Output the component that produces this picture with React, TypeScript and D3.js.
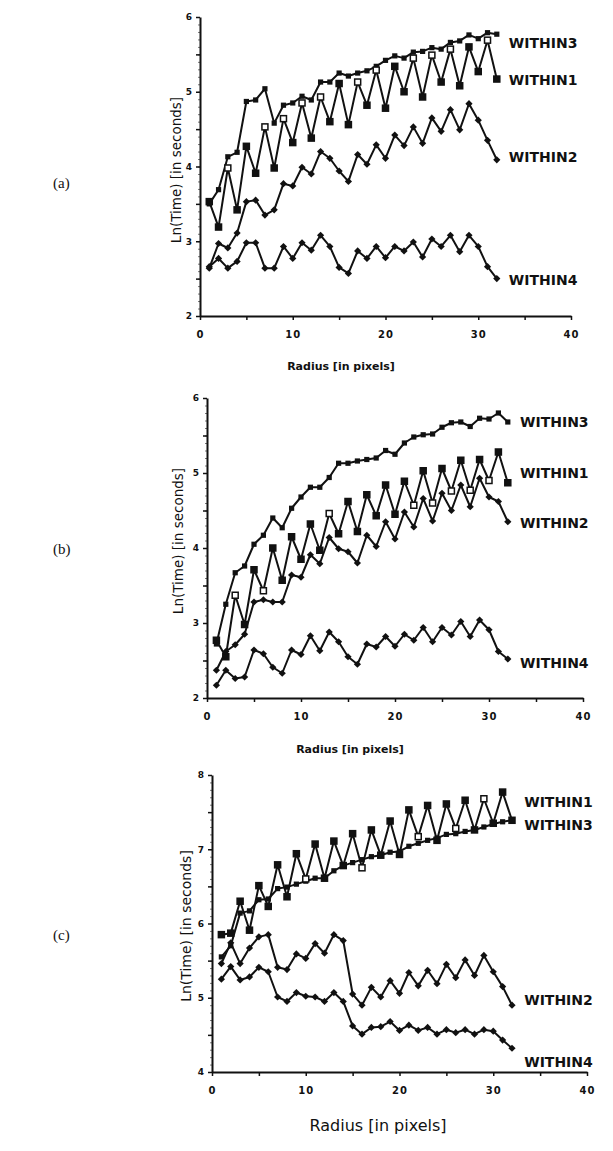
import React, { useEffect, useRef } from 'react';
import * as d3 from 'd3';

const radius = [1, 2, 3, 4, 5, 6, 7, 8, 9, 10, 11, 12, 13, 14, 15, 16, 17, 18, 19, 20, 21, 22, 23, 24, 25, 26, 27, 28, 29, 30, 31, 32];

// panel (a)
const aWithin1 = [3.53, 3.19, 3.98, 3.42, 4.27, 3.91, 4.53, 3.98, 4.64, 4.32, 4.85, 4.38, 4.93, 4.6, 5.11, 4.56, 5.13, 4.82, 5.29, 4.78, 5.34, 5.0, 5.45, 4.93, 5.49, 5.13, 5.57, 5.08, 5.6, 5.27, 5.69, 5.17];
const aWithin2 = [2.64, 2.97, 2.91, 3.11, 3.53, 3.55, 3.35, 3.42, 3.77, 3.74, 3.99, 3.9, 4.2, 4.11, 3.94, 3.8, 4.16, 4.03, 4.29, 4.11, 4.42, 4.28, 4.53, 4.31, 4.65, 4.47, 4.76, 4.49, 4.84, 4.62, 4.35, 4.09];
const aWithin3 = [3.5, 3.69, 4.13, 4.19, 4.87, 4.89, 5.04, 4.58, 4.82, 4.85, 4.94, 4.89, 5.13, 5.13, 5.25, 5.21, 5.25, 5.28, 5.34, 5.42, 5.48, 5.45, 5.53, 5.54, 5.59, 5.57, 5.66, 5.68, 5.76, 5.71, 5.79, 5.77];
const aWithin4 = [2.66, 2.77, 2.64, 2.73, 2.98, 2.98, 2.64, 2.64, 2.93, 2.77, 2.98, 2.88, 3.08, 2.93, 2.65, 2.57, 2.87, 2.77, 2.93, 2.78, 2.93, 2.87, 2.99, 2.79, 3.03, 2.93, 3.08, 2.86, 3.08, 2.93, 2.66, 2.5];

// panel (b)
const bWithin1 = [2.77, 2.55, 3.37, 2.98, 3.71, 3.43, 4.0, 3.57, 4.15, 3.85, 4.32, 3.97, 4.46, 4.19, 4.62, 4.22, 4.71, 4.43, 4.84, 4.45, 4.89, 4.57, 5.03, 4.6, 5.06, 4.76, 5.17, 4.77, 5.18, 4.9, 5.28, 4.87];
const bWithin2 = [2.37, 2.62, 2.71, 2.85, 3.28, 3.31, 3.28, 3.28, 3.64, 3.61, 3.91, 3.79, 4.14, 3.99, 3.95, 3.8, 4.17, 4.02, 4.35, 4.12, 4.48, 4.28, 4.66, 4.36, 4.73, 4.5, 4.84, 4.55, 4.93, 4.68, 4.62, 4.35];
const bWithin3 = [2.72, 3.25, 3.67, 3.76, 4.05, 4.17, 4.4, 4.27, 4.53, 4.68, 4.81, 4.81, 4.94, 5.13, 5.13, 5.16, 5.18, 5.2, 5.3, 5.25, 5.4, 5.48, 5.51, 5.52, 5.61, 5.67, 5.68, 5.62, 5.73, 5.72, 5.8, 5.68];
const bWithin4 = [2.17, 2.37, 2.26, 2.28, 2.64, 2.59, 2.41, 2.33, 2.64, 2.58, 2.83, 2.63, 2.88, 2.75, 2.55, 2.45, 2.72, 2.68, 2.82, 2.69, 2.85, 2.77, 2.94, 2.75, 2.94, 2.84, 3.02, 2.82, 3.04, 2.91, 2.62, 2.52];

// panel (c)
const cWithin1 = [5.85, 5.87, 6.3, 5.91, 6.51, 6.23, 6.79, 6.36, 6.94, 6.6, 7.07, 6.61, 7.11, 6.78, 7.21, 6.75, 7.26, 6.92, 7.38, 6.93, 7.53, 7.17, 7.59, 7.12, 7.61, 7.28, 7.66, 7.26, 7.68, 7.35, 7.77, 7.39];
const cWithin2 = [5.46, 5.74, 5.46, 5.67, 5.82, 5.85, 5.41, 5.38, 5.59, 5.53, 5.73, 5.6, 5.85, 5.77, 5.05, 4.9, 5.14, 5.01, 5.23, 5.06, 5.34, 5.16, 5.37, 5.19, 5.45, 5.27, 5.51, 5.3, 5.57, 5.35, 5.15, 4.9];
const cWithin3 = [5.55, 5.7, 6.14, 6.17, 6.32, 6.33, 6.47, 6.49, 6.53, 6.57, 6.61, 6.61, 6.71, 6.78, 6.82, 6.86, 6.9, 6.92, 6.96, 6.97, 7.04, 7.08, 7.12, 7.15, 7.2, 7.21, 7.24, 7.26, 7.3, 7.34, 7.37, 7.39];
const cWithin4 = [5.25, 5.42, 5.24, 5.28, 5.41, 5.35, 5.01, 4.95, 5.07, 5.02, 5.01, 4.95, 5.07, 4.95, 4.62, 4.51, 4.6, 4.61, 4.68, 4.56, 4.63, 4.56, 4.6, 4.51, 4.57, 4.53, 4.57, 4.51, 4.57, 4.55, 4.43, 4.32];

const seriesNames = ['WITHIN1', 'WITHIN2', 'WITHIN3', 'WITHIN4'];
const xTicks = [0, 10, 20, 30, 40];
const yTicksAB = [2, 3, 4, 5, 6];
const yTicksC = [4, 5, 6, 7, 8];

// where the series names sit (value units), order WITHIN1..4
const aLabelY = [5.16, 4.13, 5.65, 2.48];
const bLabelY = [5.0, 4.33, 5.68, 2.47];
const cLabelY = [7.64, 4.97, 7.33, 4.13];
const labelR = 33.3;

// radii where WITHIN1 prints as an open square
const aOpen = [3, 7, 9, 11, 13, 17, 19, 23, 25, 27, 31];
const bOpen = [3, 6, 13, 22, 24, 26, 28, 30];
const cOpen = [10, 16, 22, 26, 29];

const panels = [
  {
    tag: '(a)', data: [aWithin1, aWithin2, aWithin3, aWithin4], yTicks: yTicksAB, labelY: aLabelY, open: aOpen,
    left: 200, right: 571, top: 17, bottom: 316, tagY: 188,
    yTitleX: 176, yTitleY: 170, yTitleSize: 13.5,
    xTitleX: 341, xTitleY: 370, xTitleSize: 11, xTitleBold: true,
  },
  {
    tag: '(b)', data: [bWithin1, bWithin2, bWithin3, bWithin4], yTicks: yTicksAB, labelY: bLabelY, open: bOpen,
    left: 207, right: 583, top: 398, bottom: 698, tagY: 554,
    yTitleX: 178, yTitleY: 541, yTitleSize: 13.5,
    xTitleX: 350, xTitleY: 753, xTitleSize: 11, xTitleBold: true,
  },
  {
    tag: '(c)', data: [cWithin1, cWithin2, cWithin3, cWithin4], yTicks: yTicksC, labelY: cLabelY, open: cOpen,
    left: 212, right: 587, top: 775, bottom: 1072, tagY: 940,
    yTitleX: 186, yTitleY: 926, yTitleSize: 14,
    xTitleX: 378, xTitleY: 1131, xTitleSize: 16, xTitleBold: false,
  },
];

const ink = '#111';

function App() {
  const ref = useRef(null);

  useEffect(() => {
    d3.select(ref.current).select('svg').remove();
    const svg = d3
      .select(ref.current)
      .append('svg')
      .attr('width', 613)
      .attr('height', 1151)
      .style('position', 'absolute')
      .style('left', '0px')
      .style('top', '0px')
      .style('background', '#fff');

    panels.forEach((p) => {
      const yMin = p.yTicks[0];
      const yMax = p.yTicks[p.yTicks.length - 1];
      const x = d3.scaleLinear().domain([0, 40]).range([p.left, p.right]);
      const y = d3.scaleLinear().domain([yMin, yMax]).range([p.bottom, p.top]);
      const g = svg.append('g');

      // minor ticks on y
      g.append('g')
        .attr('transform', `translate(${p.left},0)`)
        .call(d3.axisLeft(y).tickValues(d3.range(yMin, yMax + 0.001, 0.1)).tickSize(2).tickSizeOuter(0).tickFormat(() => ''))
        .call((a) => a.select('.domain').remove())
        .call((a) => a.selectAll('line').attr('stroke', '#555').attr('stroke-width', 0.8));

      // y axis
      g.append('g')
        .attr('transform', `translate(${p.left},0)`)
        .call(
          d3.axisLeft(y)
            .tickValues(d3.range(yMin, yMax + 0.001, 0.5))
            .tickSize(4)
            .tickSizeOuter(0)
            .tickPadding(4)
            .tickFormat((d) => (Number.isInteger(d) ? String(d) : ''))
        )
        .call((a) => a.select('.domain').attr('stroke', ink).attr('stroke-width', 2))
        .call((a) => a.selectAll('line').attr('stroke', ink).attr('stroke-width', 1.5))
        .call((a) =>
          a.selectAll('text')
            .attr('fill', ink)
            .style('font-family', '"DejaVu Sans", sans-serif')
            .style('font-weight', 'bold')
            .style('font-size', '9px')
        );

      // x axis
      g.append('g')
        .attr('transform', `translate(0,${p.bottom})`)
        .call(
          d3.axisBottom(x)
            .tickValues(d3.range(0, 40.001, 5))
            .tickSize(4)
            .tickSizeOuter(0)
            .tickPadding(11)
            .tickFormat((d) => (xTicks.includes(d) ? String(d) : ''))
        )
        .call((a) => a.select('.domain').attr('stroke', ink).attr('stroke-width', 2))
        .call((a) => a.selectAll('line').attr('stroke', ink).attr('stroke-width', 1.5))
        .call((a) =>
          a.selectAll('text')
            .attr('fill', ink)
            .style('font-family', '"DejaVu Sans", sans-serif')
            .style('font-weight', 'bold')
            .style('font-size', '10px')
            .style('letter-spacing', '1px')
        );

      // titles
      g.append('text')
        .attr('x', p.xTitleX)
        .attr('y', p.xTitleY)
        .attr('text-anchor', 'middle')
        .attr('fill', ink)
        .style('font-family', '"DejaVu Sans", sans-serif')
        .style('font-weight', p.xTitleBold ? 'bold' : 'normal')
        .style('font-size', `${p.xTitleSize}px`)
        .text('Radius [in pixels]');

      g.append('text')
        .attr('transform', `translate(${p.yTitleX},${p.yTitleY}) rotate(-90)`)
        .attr('text-anchor', 'middle')
        .attr('dy', '0.35em')
        .attr('fill', ink)
        .style('font-family', '"DejaVu Sans", sans-serif')
        .style('font-size', `${p.yTitleSize}px`)
        .text('Ln(Time) [in seconds]');

      g.append('text')
        .attr('x', 53)
        .attr('y', p.tagY)
        .attr('fill', ink)
        .style('font-family', '"Liberation Serif", "Times New Roman", serif')
        .style('font-size', '15px')
        .text(p.tag);

      // lines
      const line = d3
        .line()
        .x((d, i) => x(radius[i]))
        .y((d) => y(d));

      p.data.forEach((vals) => {
        g.append('path')
          .datum(vals)
          .attr('d', line)
          .attr('fill', 'none')
          .attr('stroke', ink)
          .attr('stroke-width', 2)
          .attr('stroke-linejoin', 'round');
      });

      // markers: WITHIN2 / WITHIN4 diamonds
      [p.data[1], p.data[3]].forEach((vals) => {
        g.selectAll(null)
          .data(vals)
          .enter()
          .append('path')
          .attr('d', d3.symbol(d3.symbolSquare, 26))
          .attr('transform', (d, i) => `translate(${x(radius[i])},${y(d)}) rotate(45)`)
          .attr('fill', ink);
      });

      // WITHIN3 small squares
      g.selectAll(null)
        .data(p.data[2])
        .enter()
        .append('rect')
        .attr('x', (d, i) => x(radius[i]) - 2.6)
        .attr('y', (d) => y(d) - 2.6)
        .attr('width', 5.2)
        .attr('height', 5.2)
        .attr('fill', ink);

      // WITHIN1 squares, some open
      g.selectAll(null)
        .data(p.data[0])
        .enter()
        .append('rect')
        .attr('x', (d, i) => x(radius[i]) - 3)
        .attr('y', (d) => y(d) - 3)
        .attr('width', 6)
        .attr('height', 6)
        .attr('fill', (d, i) => (p.open.includes(radius[i]) ? '#fff' : ink))
        .attr('stroke', ink)
        .attr('stroke-width', 1.5);

      // series names
      seriesNames.forEach((name, k) => {
        g.append('text')
          .attr('x', x(labelR))
          .attr('y', y(p.labelY[k]))
          .attr('dy', '0.36em')
          .attr('fill', ink)
          .style('font-family', '"DejaVu Sans", sans-serif')
          .style('font-weight', 'bold')
          .style('font-size', '14px')
          .text(name);
      });
    });

    return () => {
      d3.select(ref.current).select('svg').remove();
    };
  }, []);

  return <div ref={ref} style={{ width: 613, height: 1151 }}></div>;
}

export default App;
